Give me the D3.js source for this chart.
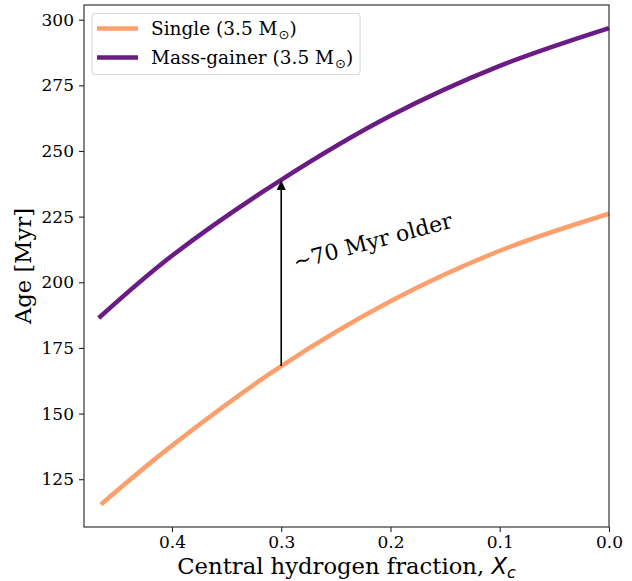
<!DOCTYPE html>
<html>
<head>
<meta charset="utf-8">
<script src="https://cdn.jsdelivr.net/npm/d3@7"></script>
<style>
  html, body { margin: 0; padding: 0; background: #fff; }
  svg { display: block; }
  text { font-family: "DejaVu Serif", serif; fill: #000; }
</style>
</head>
<body>
<svg id="chart" width="632" height="581"></svg>
<script>
// Central hydrogen fraction (x) and stellar age in Myr for each track
const xcSingle = [0.465, 0.40, 0.30, 0.20, 0.10, 0.00];
const ageSingle = [115.4, 137.8, 168.1, 192.8, 212.0, 226.1];

const xcGainer = [0.467, 0.40, 0.30, 0.20, 0.10, 0.00];
const ageGainer = [186.4, 210.1, 239.0, 263.4, 282.4, 296.8];

const xTicks = [0.4, 0.3, 0.2, 0.1, 0.0];
const yTicks = [125, 150, 175, 200, 225, 250, 275, 300];

const seriesNames = ["Single (3.5 M", "Mass-gainer (3.5 M"];
const seriesColors = ["#fd9f6c", "#6a1b84"];

const arrowXc = 0.30;
const annotation = "\u223C70 Myr older";

const W = 632, H = 581;
const margin = { left: 84, right: 23, top: 5, bottom: 54 };
const svg = d3.select("#chart");

const x = d3.scaleLinear().domain([0.4805, 0.0]).range([margin.left, W - margin.right]);
const y = d3.scaleLinear().domain([106.8, 305.6]).range([H - margin.bottom, margin.top]);

const line = d3.line()
  .x(d => x(d[0]))
  .y(d => y(d[1]))
  .curve(d3.curveCatmullRom.alpha(0.5));

const single = d3.zip(xcSingle, ageSingle);
const gainer = d3.zip(xcGainer, ageGainer);

const plot = svg.append("g");
plot.append("path").datum(single)
  .attr("d", line).attr("fill", "none")
  .attr("stroke", seriesColors[0]).attr("stroke-width", 4.5);
plot.append("path").datum(gainer)
  .attr("d", line).attr("fill", "none")
  .attr("stroke", seriesColors[1]).attr("stroke-width", 4.5);

// Arrow between the two tracks at the chosen Xc
const ageAt = (xs, ys, v) => ys[xs.indexOf(v)];
const yFrom = y(ageAt(xcSingle, ageSingle, arrowXc));
const yTo = y(ageAt(xcGainer, ageGainer, arrowXc));
const ax = x(arrowXc);
const headLen = 10, headHalf = 4.5;
plot.append("line")
  .attr("x1", ax).attr("x2", ax)
  .attr("y1", yFrom).attr("y2", yTo + headLen)
  .attr("stroke", "#000").attr("stroke-width", 1.6);
plot.append("path")
  .attr("d", `M${ax},${yTo} L${ax - headHalf},${yTo + headLen} L${ax + headHalf},${yTo + headLen} Z`)
  .attr("fill", "#000");

plot.append("text")
  .attr("transform", `translate(${x(0.287)},${y(204.8)}) rotate(-15)`)
  .attr("font-size", 22)
  .text(annotation);

// Axes
const xAxis = d3.axisBottom(x).tickValues(xTicks).tickSize(5).tickPadding(4)
  .tickFormat(d3.format(".1f"));
const yAxis = d3.axisLeft(y).tickValues(yTicks).tickSize(5).tickPadding(5)
  .tickFormat(d3.format("d"));

const gx = svg.append("g").attr("transform", `translate(0,${H - margin.bottom})`).call(xAxis);
const gy = svg.append("g").attr("transform", `translate(${margin.left},0)`).call(yAxis);
[gx, gy].forEach(g => {
  g.select(".domain").remove();
  g.selectAll(".tick line").attr("stroke", "#222").attr("stroke-width", 1.1);
  g.selectAll(".tick text").attr("font-family", "DejaVu Serif").attr("font-size", 17).attr("fill", "#000");
});

// Frame
svg.append("rect")
  .attr("x", margin.left).attr("y", margin.top)
  .attr("width", W - margin.left - margin.right)
  .attr("height", H - margin.top - margin.bottom)
  .attr("fill", "none").attr("stroke", "#222").attr("stroke-width", 1.1);

// Axis labels
const xl = svg.append("text")
  .attr("x", (margin.left + W - margin.right) / 2)
  .attr("y", 574)
  .attr("text-anchor", "middle")
  .attr("font-size", 22.7);
xl.append("tspan").text("Central hydrogen fraction, ");
xl.append("tspan").attr("font-family", "DejaVu Sans").attr("font-style", "italic").text("X");
xl.append("tspan").attr("font-family", "DejaVu Sans").attr("font-style", "italic")
  .attr("font-size", 16).attr("dy", 4).text("c");

svg.append("text")
  .attr("transform", `translate(31,${(margin.top + H - margin.bottom) / 2}) rotate(-90)`)
  .attr("text-anchor", "middle")
  .attr("font-size", 22.7)
  .text("Age [Myr]");

// Legend
const lg = svg.append("g");
lg.append("rect")
  .attr("x", 92).attr("y", 13.5).attr("width", 268).attr("height", 61)
  .attr("rx", 3).attr("fill", "#fff").attr("fill-opacity", 0.8)
  .attr("stroke", "#d4d4d4").attr("stroke-width", 1);
seriesNames.forEach((name, i) => {
  const cy = 28.5 + i * 29;
  lg.append("line")
    .attr("x1", 97).attr("x2", 138).attr("y1", cy).attr("y2", cy)
    .attr("stroke", seriesColors[i]).attr("stroke-width", 4.5);
  const t = lg.append("text").attr("x", 151).attr("y", cy + 6.5).attr("font-size", 18.5);
  t.append("tspan").text(name);
  t.append("tspan").attr("font-family", "DejaVu Sans").attr("font-size", 13).attr("dy", 4).attr("dx", 1).text("\u2299");
  t.append("tspan").attr("dy", -4).text(")");
});
</script>
</body>
</html>
